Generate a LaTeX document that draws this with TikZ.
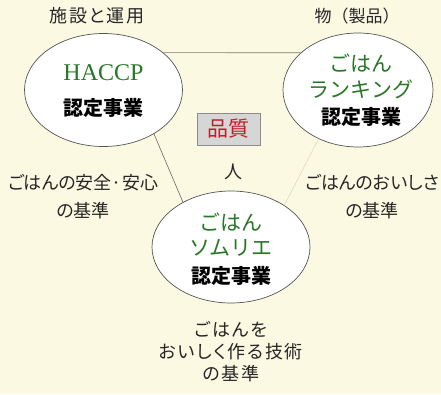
\documentclass[tikz,border=0pt]{standalone}
\usepackage{fontspec}
\setmainfont{Noto Sans CJK JP}
\newfontfamily\labelfont[RawFeature=+palt]{Noto Sans CJK JP}
\newfontfamily\widelabel[RawFeature=+palt,LetterSpace=9]{Noto Sans CJK JP}
\newfontfamily\fullwidthlabel{Noto Sans CJK JP}
\newfontfamily\latinserif{Liberation Serif}
\usetikzlibrary{shapes.geometric}
\definecolor{bgcream}{RGB}{252,249,226}
\definecolor{leafgreen}{RGB}{40,120,40}
\definecolor{qualred}{RGB}{196,28,36}
\definecolor{ringgray}{RGB}{85,85,85}
\definecolor{linegray}{RGB}{120,120,120}
\definecolor{faintline}{RGB}{222,218,196}
\definecolor{boxgray}{RGB}{214,214,214}
\tikzset{
  oval/.style={ellipse, draw=ringgray, line width=0.7pt, fill=white, inner sep=0pt, align=center},
  lbl/.style={font=\labelfont\fontsize{18}{28}\selectfont, text=black!85, align=center, inner sep=0pt},
  greentxt/.style={inner sep=0pt, text=leafgreen, font=\fontsize{21}{21}\selectfont},
  certtxt/.style={inner sep=0pt, font=\bfseries\fontsize{20}{20}\selectfont},
  edge/.style={line width=0.6pt}
}
\begin{document}
\begin{tikzpicture}[x=1pt,y=-1pt]
\fill[bgcream] (0,0) rectangle (441,394);
\useasboundingbox (0,0) rectangle (441,394);

% ellipses
\node[oval, minimum width=158pt, minimum height=113pt] (h) at (103.5,90) {};
\node[oval, minimum width=150pt, minimum height=114pt] (r) at (358,90) {};
\node[oval, minimum width=158pt, minimum height=112pt] (s) at (231,247) {};

% connectors
\draw[edge, linegray] (h.32) -- (r.147);
\draw[edge, linegray!85!black] (h.-41) -- (s.137);
\draw[edge, faintline] (r.-129) -- (s.38);

% ellipse texts
\node[inner sep=0pt, text=leafgreen, font=\latinserif\fontsize{24}{24}\selectfont] (ht) at (103.5,73) {HACCP};
\node[certtxt] (hn) at (103.5,108) {認定事業};

\node[greentxt] (rt1) at (361,63) {ごはん};
\node[greentxt] (rt2) at (361,89) {ランキング};
\node[certtxt] (rn) at (361,117) {認定事業};

\node[greentxt] (st1) at (231,222) {ごはん};
\node[greentxt] (st2) at (231,248) {ソムリエ};
\node[certtxt] (sn) at (231,276) {認定事業};

% quality box
\node[draw=black!45, fill=boxgray, minimum width=63pt, minimum height=32pt, inner sep=0pt,
      text=qualred, font=\fontsize{21}{21}\selectfont] (q) at (228.5,129) {品質};

% outer labels
\node[lbl, font=\widelabel\fontsize{18}{28}\selectfont] (l1) at (97,16) {施設と運用};
\node[lbl, font=\fullwidthlabel\fontsize{17}{28}\selectfont] (l2) at (357,16) {物（製品）};
\node[lbl] (l3) at (233,172) {人};
\node[lbl] (l4) at (83,197) {ごはんの安全·安心\\の基準};
\node[lbl] (l5) at (372,197) {ごはんのおいしさ\\の基準};
\node[lbl, font=\widelabel\fontsize{18}{22}\selectfont] (l6) at (231,352) {ごはんを\\おいしく作る技術\\の基準};
\end{tikzpicture}
\end{document}
